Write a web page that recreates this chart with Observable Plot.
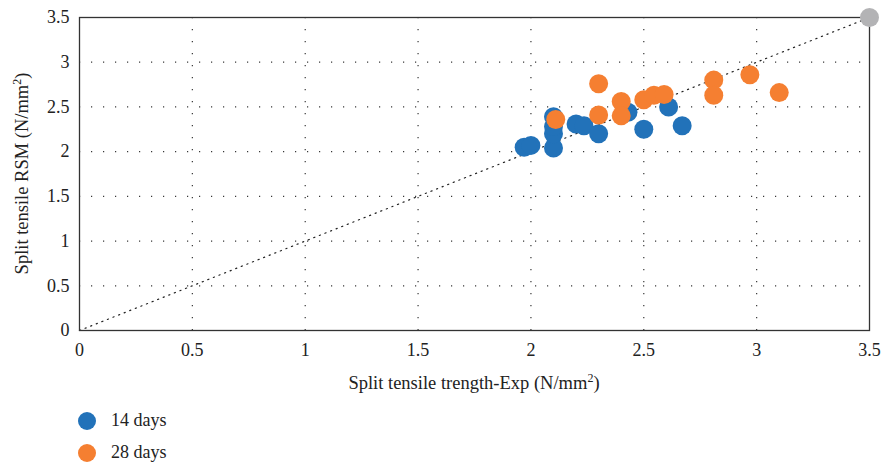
<!DOCTYPE html>
<html>
<head>
<meta charset="utf-8">
<script src="https://cdn.jsdelivr.net/npm/d3@7"></script>
<script src="https://cdn.jsdelivr.net/npm/@observablehq/plot@0.6"></script>
<style>
  body { margin: 0; background: #fff; font-family: 'Liberation Serif', 'DejaVu Serif', serif; }
  #legend { position: relative; height: 64px; font-family: 'Liberation Serif', 'DejaVu Serif', serif; font-size: 18px; color: #222; }
  .item { position: absolute; left: 78px; display: flex; align-items: center; }
  .sw { width: 18px; height: 18px; border-radius: 50%; display: inline-block; margin-right: 15px; }
</style>
</head>
<body>
<div id="chart"></div>
<div id="legend"></div>
<script>
const seriesNames = ["14 days", "28 days"];
const seriesColors = ["#2272b9", "#f57f31"];
const exp14 = [1.97, 2.00, 2.10, 2.10, 2.10, 2.10, 2.20, 2.235, 2.30, 2.43, 2.50, 2.61, 2.67];
const rsm14 = [2.05, 2.07, 2.04, 2.20, 2.28, 2.39, 2.31, 2.29, 2.20, 2.44, 2.25, 2.50, 2.29];
const exp28 = [2.11, 2.30, 2.30, 2.40, 2.40, 2.50, 2.545, 2.59, 2.81, 2.81, 2.97, 3.10];
const rsm28 = [2.36, 2.76, 2.41, 2.56, 2.40, 2.58, 2.63, 2.64, 2.80, 2.63, 2.86, 2.66];
const refPoint = [3.5, 3.5];
const lineX = [0, 3.5];
const ticks = [0, 0.5, 1, 1.5, 2, 2.5, 3, 3.5];
const gridTicks = [0.5, 1, 1.5, 2, 2.5, 3];

const d14 = exp14.map((x, i) => ({x, y: rsm14[i]}));
const d28 = exp28.map((x, i) => ({x, y: rsm28[i]}));
const diag = lineX.map(v => ({x: v, y: v}));

const FONT = "'Liberation Serif', 'DejaVu Serif', serif";
const W = 882, H = 400;
const plot = Plot.plot({
  width: W, height: H,
  marginLeft: 79, marginRight: 13, marginTop: 17, marginBottom: 70,
  style: {fontFamily: FONT, fontSize: "18px", color: "#222", background: "#fff"},
  x: {domain: [0, 3.5], label: null},
  y: {domain: [0, 3.5], label: null},
  marks: [
    Plot.gridX(gridTicks, {stroke: "#222", strokeOpacity: 0.9, strokeDasharray: "1.2,10.8", strokeWidth: 1.2}),
    Plot.gridY(gridTicks, {stroke: "#222", strokeOpacity: 0.9, strokeDasharray: "1.2,10.8", strokeWidth: 1.2}),
    Plot.line(diag, {x: "x", y: "y", stroke: "#222", strokeDasharray: "1.2,4.8", strokeWidth: 1.2}),
    Plot.frame({stroke: "#333", strokeWidth: 1.3}),
    Plot.dot(d14, {x: "x", y: "y", r: 9.5, fill: seriesColors[0]}),
    Plot.dot(d28, {x: "x", y: "y", r: 9.5, fill: seriesColors[1]}),
    Plot.dot([refPoint], {x: d => d[0], y: d => d[1], r: 9.5, fill: "#b3b3b5"}),
    Plot.axisX({ticks: ticks, tickFormat: d => String(d), tickSize: 0, tickPadding: 13, label: null, fontSize: 18}),
    Plot.axisY({ticks: ticks, tickFormat: d => String(d), tickSize: 0, tickPadding: 10, label: null, fontSize: 18})
  ]
});
document.getElementById("chart").appendChild(plot);

const svg = d3.select(plot);
svg.selectAll("text").attr("font-family", FONT);
// x axis title
const xt = svg.append("text")
  .attr("x", 79 + 790 / 2).attr("y", 389)
  .attr("text-anchor", "middle")
  .attr("font-size", 18.5).attr("fill", "#222").attr("font-family", FONT);
xt.append("tspan").text("Split tensile trength-Exp (N/mm");
xt.append("tspan").attr("font-size", 12).attr("dy", -7).text("2");
xt.append("tspan").attr("dy", 7).text(")");
// y axis title
const yt = svg.append("text")
  .attr("transform", `translate(28, ${17 + 313 / 2}) rotate(-90)`)
  .attr("text-anchor", "middle")
  .attr("font-size", 18.5).attr("fill", "#222").attr("font-family", FONT);
yt.append("tspan").text("Split tensile RSM (N/mm");
yt.append("tspan").attr("font-size", 12).attr("dy", -7).text("2");
yt.append("tspan").attr("dy", 7).text(")");

const legend = document.getElementById("legend");
seriesNames.forEach((name, i) => {
  const item = document.createElement("div");
  item.className = "item";
  item.style.top = (10 + i * 32) + "px";
  const sw = document.createElement("span");
  sw.className = "sw";
  sw.style.background = seriesColors[i];
  item.appendChild(sw);
  item.appendChild(document.createTextNode(name));
  legend.appendChild(item);
});
</script>
</body>
</html>
